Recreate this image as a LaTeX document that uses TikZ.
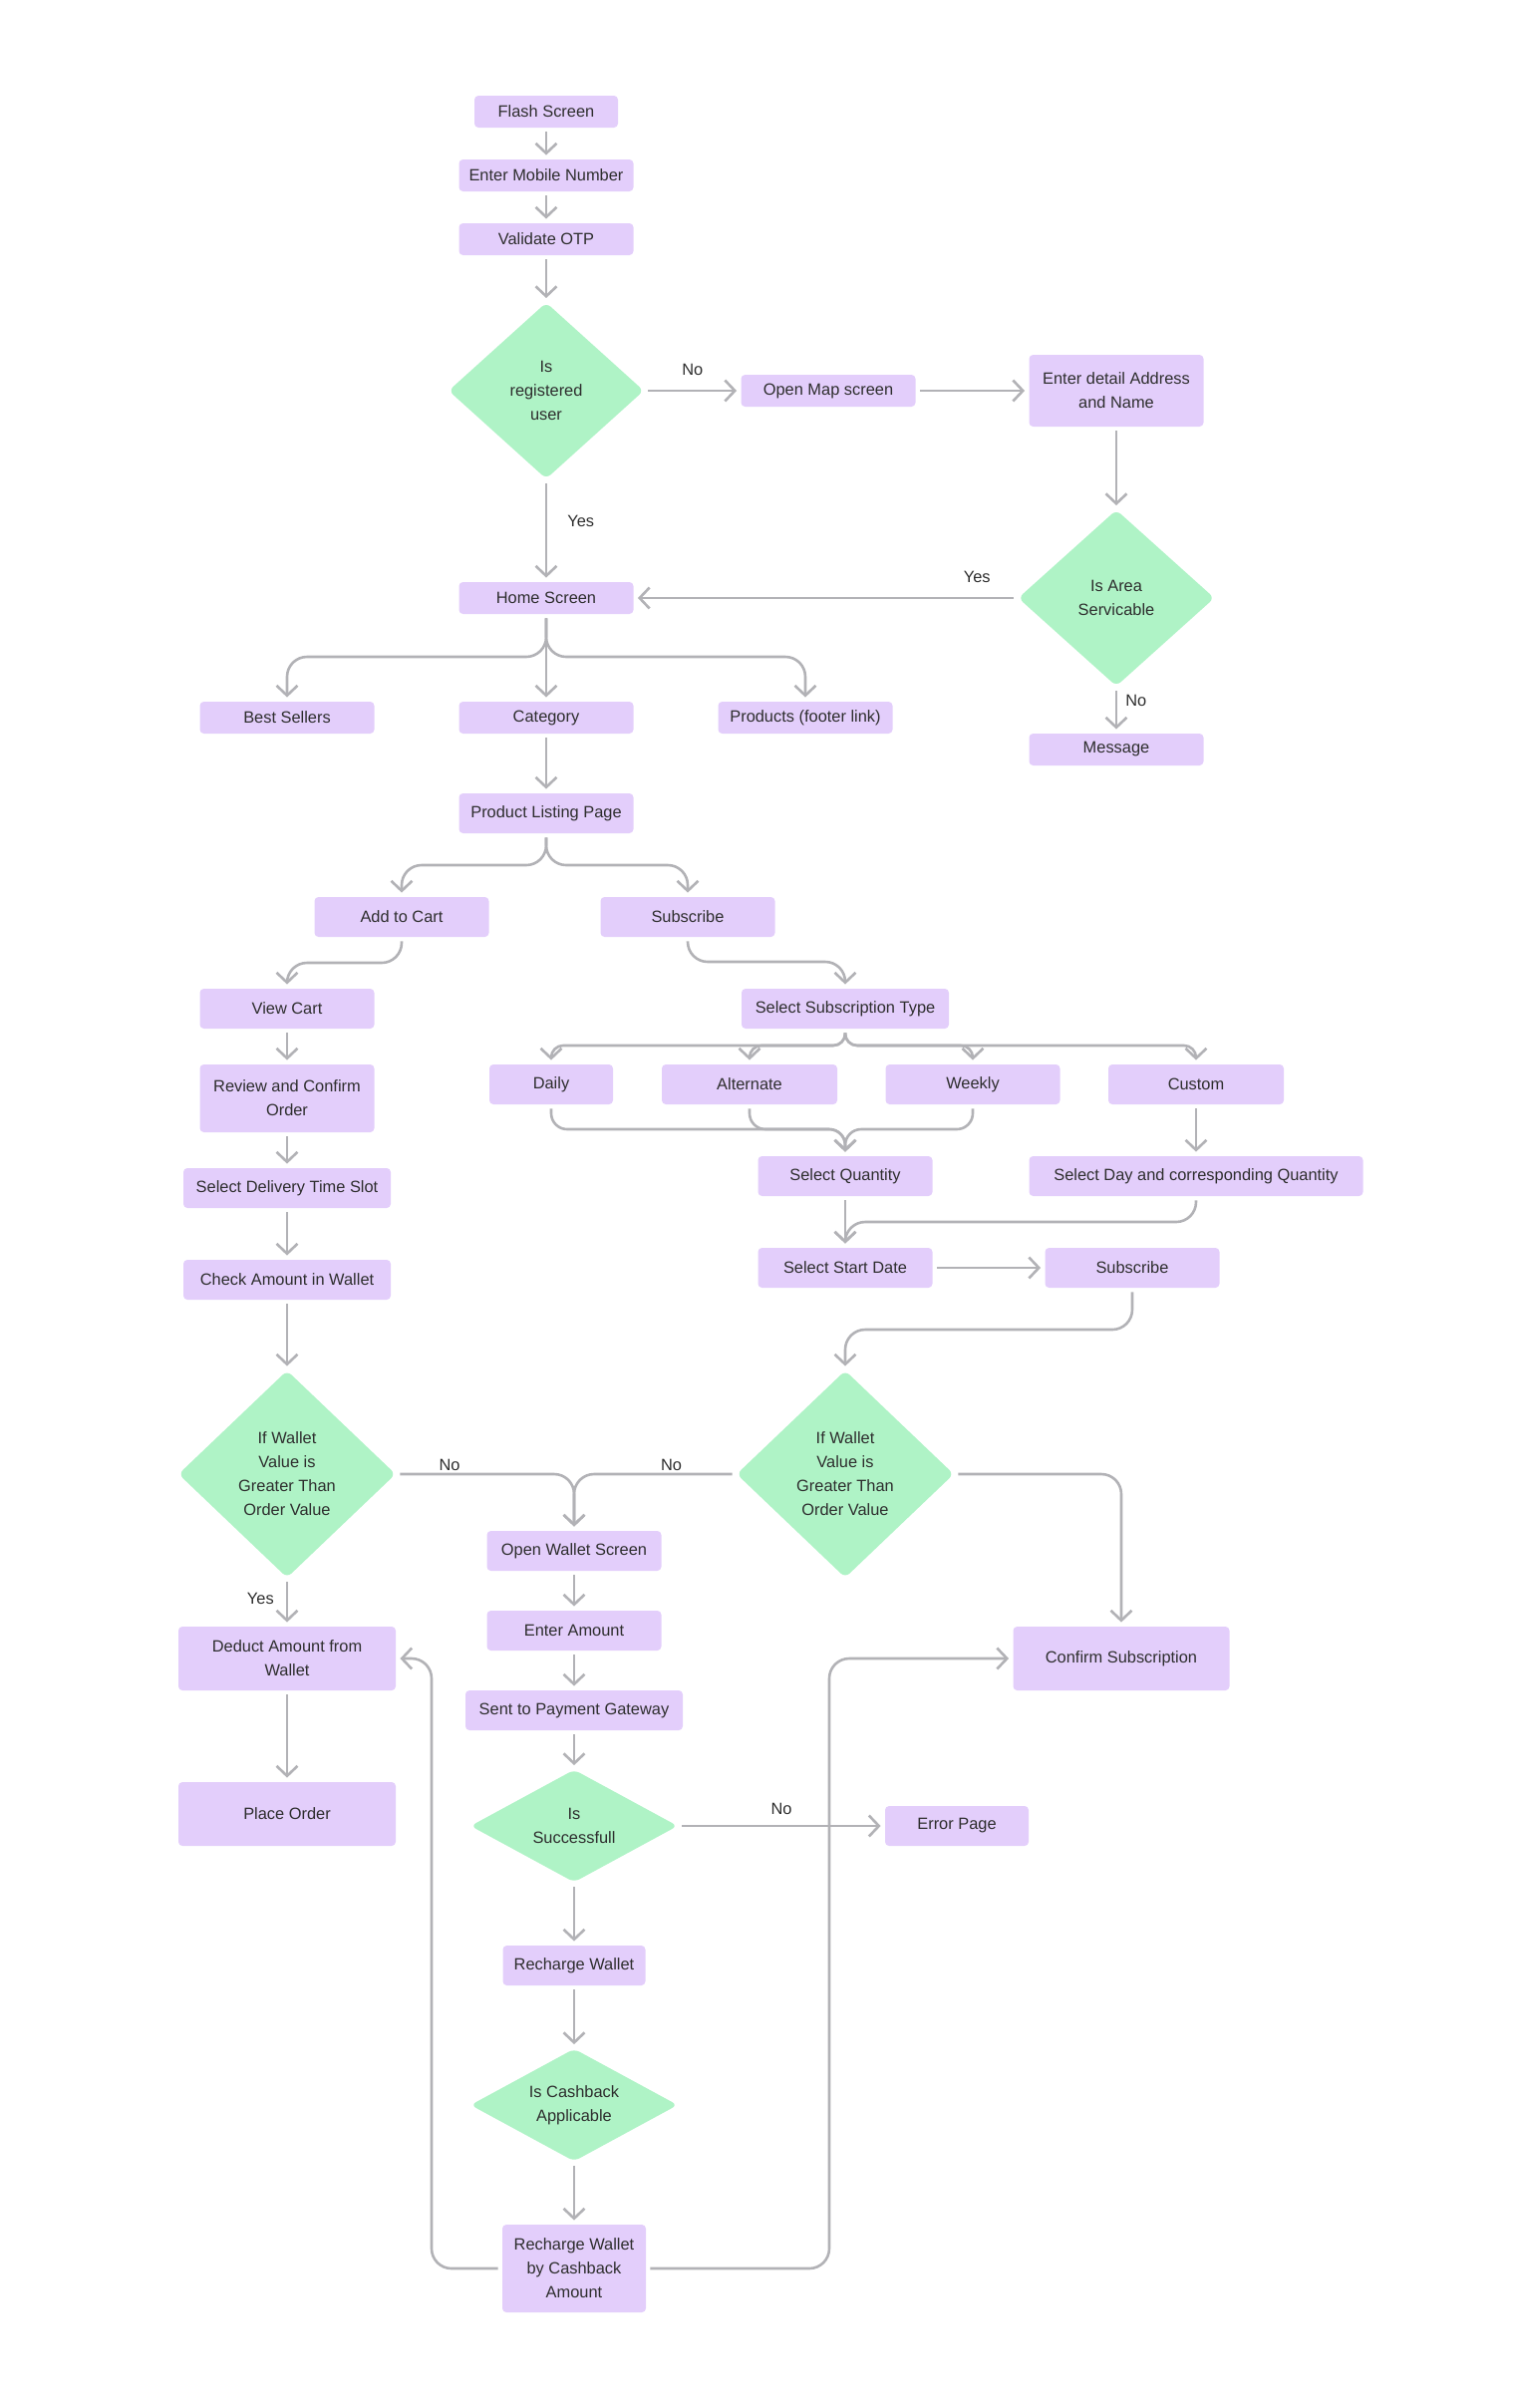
\documentclass[tikz,border=0pt]{standalone}
\usepackage{fontspec}
\setmainfont{Liberation Sans}
\usetikzlibrary{arrows.meta,shapes.geometric}

\definecolor{boxfill}{HTML}{E3CEFB}
\definecolor{condfill}{HTML}{AFF3C6}
\definecolor{linegray}{HTML}{B2B2B6}
\definecolor{txt}{HTML}{2E2E2E}

\begin{document}
\begin{tikzpicture}[x=0.5pt, y=-0.5pt,
    every node/.style={font=\fontsize{8.2}{12}\selectfont, text=txt},
    box/.style={fill=boxfill, rounded corners=2pt, align=center, inner sep=0pt,
                minimum width=87.5pt, minimum height=20pt},
    cond/.style={diamond, fill=condfill, rounded corners=3pt, align=center, inner sep=0pt},
    conn/.style={linegray, line width=1.3pt, rounded corners=10pt,
                 -{Straight Barb[length=5pt,width=10.5pt]}, shorten >=2pt, shorten <=2pt},
    lbl/.style={inner sep=0pt}
  ]
  \useasboundingbox (0,0) rectangle (1517,2416);

  % Login
  \node[box, minimum width=72pt, minimum height=16pt] (flash) at (548,112) {Flash Screen};
  \node[box, minimum height=16pt] (mobile) at (548,176) {Enter Mobile Number};
  \node[box, minimum height=16pt] (otp) at (548,240) {Validate OTP};
  \node[cond, minimum width=98pt, minimum height=88.5pt] (isreg) at (548,392) {Is\\registered\\user};
  \node[box, minimum height=16pt] (map) at (831,392) {Open Map screen};
  \node[box, minimum height=36pt] (address) at (1120,392) {Enter detail Address\\and Name};
  \node[cond, minimum width=98.5pt, minimum height=88.5pt] (area) at (1120,600) {Is Area\\Servicable};
  \node[box, minimum height=16pt] (message) at (1120,752) {Message};

  % Home
  \node[box, minimum height=16pt] (home) at (548,600) {Home Screen};
  \node[box, minimum height=16pt] (best) at (288,720) {Best Sellers};
  \node[box, minimum height=16pt] (category) at (548,720) {Category};
  \node[box, minimum height=16pt] (products) at (808,720) {Products (footer link)};
  \node[box] (plp) at (548,816) {Product Listing Page};
  \node[box] (cart) at (403,920) {Add to Cart};
  \node[box] (subscribe) at (690,920) {Subscribe};

  % Cart
  \node[box] (viewcart) at (288,1012) {View Cart};
  \node[box, minimum height=34pt] (review) at (288,1102) {Review and Confirm\\Order};
  \node[box, minimum width=104pt] (slot) at (288,1192) {Select Delivery Time Slot};
  \node[box, minimum width=104pt] (check) at (288,1284) {Check Amount in Wallet};
  \node[cond, minimum width=109pt, minimum height=104pt] (walleta) at (288,1479) {If Wallet\\Value is\\Greater Than\\Order Value};
  \node[box, minimum width=109pt, minimum height=32pt] (deduct) at (288,1664) {Deduct Amount from\\Wallet};
  \node[box, minimum width=109pt, minimum height=32pt] (place) at (288,1820) {Place Order};

  % Subscription
  \node[box, minimum width=104pt] (subtype) at (848,1012) {Select Subscription Type};
  \node[box, minimum width=62pt] (daily) at (553,1088) {Daily};
  \node[box, minimum width=88pt] (alternate) at (752,1088) {Alternate};
  \node[box] (weekly) at (976,1088) {Weekly};
  \node[box, minimum width=88pt] (custom) at (1200,1088) {Custom};
  \node[box] (quantity) at (848,1180) {Select Quantity};
  \node[box, minimum width=167.5pt] (selday) at (1200,1180) {Select Day and corresponding Quantity};
  \node[box] (startdate) at (848,1272) {Select Start Date};
  \node[box] (subscribeb) at (1136,1272) {Subscribe};
  \node[cond, minimum width=109pt, minimum height=104pt] (walletb) at (848,1479) {If Wallet\\Value is\\Greater Than\\Order Value};
  \node[box, minimum width=108.5pt, minimum height=32pt] (confirm) at (1125,1664) {Confirm Subscription};

  % Wallet recharge
  \node[box] (openwallet) at (576,1556) {Open Wallet Screen};
  \node[box] (amount) at (576,1636) {Enter Amount};
  \node[box, minimum width=109pt] (gateway) at (576,1716) {Sent to Payment Gateway};
  \node[cond, minimum width=104pt, minimum height=56.5pt, aspect=1.8] (success) at (576,1832) {Is\\Successfull};
  \node[box, minimum width=72pt] (error) at (960,1832) {Error Page};
  \node[box, minimum width=71.5pt] (recharge) at (576,1972) {Recharge Wallet};
  \node[cond, minimum width=104pt, minimum height=56.5pt, aspect=1.8] (cashback) at (576,2112) {Is Cashback\\Applicable};
  \node[box, minimum width=72pt, minimum height=44pt] (rwcb) at (576,2276) {Recharge Wallet\\by Cashback\\Amount};

  % Hilfspunkte
  \coordinate (homefork) at (548,659);
  \coordinate (plpfork) at (548,868);
  \coordinate (cartbend) at (403,966);
  \coordinate (subbend) at (690,965);
  \coordinate (typefork) at (848,1049);
  \coordinate (qmerge) at (848,1133);
  \coordinate (smerge) at (848,1226);
  \coordinate (bmerge) at (848,1334);
  \coordinate (loopl) at (433,1664);
  \coordinate (loopr) at (832,1664);

  % Verbindungen
  \draw[conn] (flash) -- (mobile);
  \draw[conn] (mobile) -- (otp);
  \draw[conn] (otp) -- (isreg);
  \draw[conn] (isreg.east) -- node[lbl, above=7pt] {No} (map.west);
  \draw[conn] (map) -- (address);
  \draw[conn] (isreg.south) -- node[lbl, right=10pt, pos=0.41] {Yes} (home.north);
  \draw[conn] (address) -- (area);
  \draw[conn] (area.west) -- node[lbl, above=7pt, pos=0.106] {Yes} (home.east);
  \draw[conn] (area.south) -- node[lbl, right=4pt, pos=0.3] {No} (message.north);

  \draw[conn] (home.south) -- (category.north);
  \draw[conn] (home.south) -- (homefork) -| (best.north);
  \draw[conn] (home.south) -- (homefork) -| (products.north);
  \draw[conn] (category) -- (plp);
  \draw[conn] (plp.south) -- (plpfork) -| (cart.north);
  \draw[conn] (plp.south) -- (plpfork) -| (subscribe.north);

  \draw[conn] (cart.south) -- (cartbend) -| (viewcart.north);
  \draw[conn] (viewcart) -- (review);
  \draw[conn] (review) -- (slot);
  \draw[conn] (slot) -- (check);
  \draw[conn] (check) -- (walleta);
  \draw[conn] (walleta.south) -- node[lbl, left=6pt, pos=0.43] {Yes} (deduct.north);
  \draw[conn] (deduct) -- (place);
  \draw[conn] (walleta.east) -| node[lbl, above=1pt, pos=0.15] {No} (openwallet.north);

  \draw[conn] (subscribe.south) -- (subbend) -| (subtype.north);
  \draw[conn, rounded corners=6pt] (subtype.south) -- (typefork) -| (daily.north);
  \draw[conn, rounded corners=6pt] (subtype.south) -- (typefork) -| (alternate.north);
  \draw[conn, rounded corners=6pt] (subtype.south) -- (typefork) -| (weekly.north);
  \draw[conn, rounded corners=6pt] (subtype.south) -- (typefork) -| (custom.north);
  \draw[conn, rounded corners=8pt] (daily.south) |- (qmerge) -- (quantity.north);
  \draw[conn, rounded corners=8pt] (alternate.south) |- (qmerge) -- (quantity.north);
  \draw[conn, rounded corners=8pt] (weekly.south) |- (qmerge) -- (quantity.north);
  \draw[conn] (custom) -- (selday);
  \draw[conn] (quantity) -- (startdate);
  \draw[conn] (selday.south) |- (smerge) -- (startdate.north);
  \draw[conn] (startdate) -- (subscribeb);
  \draw[conn] (subscribeb.south) |- (bmerge) -- (walletb.north);
  \draw[conn] (walletb.west) -| node[lbl, above=1pt, pos=0.2] {No} (openwallet.north);
  \draw[conn] (walletb.east) -| (confirm.north);

  \draw[conn] (openwallet) -- (amount);
  \draw[conn] (amount) -- (gateway);
  \draw[conn] (gateway) -- (success);
  \draw[conn] (success.east) -- node[lbl, above=5pt] {No} (error.west);
  \draw[conn] (success) -- (recharge);
  \draw[conn] (recharge) -- (cashback);
  \draw[conn] (cashback) -- (rwcb);
  \draw[conn] (rwcb.west) -| (loopl) -- (deduct.east);
  \draw[conn] (rwcb.east) -| (loopr) -- (confirm.west);
\end{tikzpicture}
\end{document}
